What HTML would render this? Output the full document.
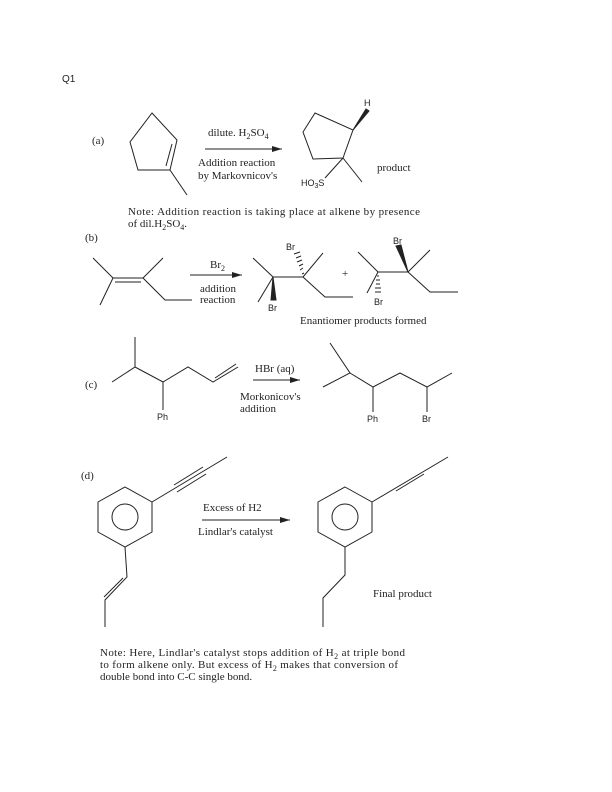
<!DOCTYPE html>
<html><head><meta charset="utf-8"><style>
html,body{margin:0;padding:0;background:#fff;}
svg{display:block;}
.s{font-family:"Liberation Serif",serif;font-size:11px;fill:#222;}
.a{font-family:"Liberation Sans",sans-serif;font-size:9px;fill:#222;}
line,polyline,polygon,circle{stroke:#222;stroke-width:1;fill:none;}
.f{fill:#222;}
</style></head><body>
<svg width="612" height="792" viewBox="0 0 612 792" xmlns="http://www.w3.org/2000/svg">
<defs><marker id="ar" markerWidth="10" markerHeight="6" refX="10" refY="3" orient="auto"><path d="M0,0 L10,3 L0,6 Z" fill="#222"/></marker></defs>
<text x="62" y="82" class="a" style="font-size:10px">Q1</text>

<!-- (a) -->
<text x="92" y="144" class="s">(a)</text>
<polygon points="152,113 177,140 170,170 138,170 130,142"/>
<line x1="172" y1="144" x2="166" y2="166"/>
<line x1="170" y1="170" x2="187" y2="195"/>
<line x1="205" y1="149" x2="282" y2="149" marker-end="url(#ar)"/>
<text x="208" y="136" class="s">dilute. H<tspan font-size="8" dy="3">2</tspan><tspan dy="-3">SO</tspan><tspan font-size="8" dy="3">4</tspan></text>
<text x="198" y="166" class="s">Addition reaction</text>
<text x="198" y="179" class="s">by Markovnicov's</text>
<polygon points="315,113 353,130 343,158 313,159 303,132"/>
<polygon class="f" points="353,130 369,111 366,109"/>
<text x="364" y="106" class="a">H</text>
<line x1="343" y1="158" x2="362" y2="182"/>
<line x1="343" y1="158" x2="325" y2="178"/>
<text x="301" y="186" class="a">HO<tspan font-size="7" dy="2">3</tspan><tspan dy="-2">S</tspan></text>
<text x="377" y="171" class="s">product</text>
<text x="128" y="215" class="s" textLength="292">Note: Addition reaction is taking place at alkene by presence</text>
<text x="128" y="227" class="s">of dil.H<tspan font-size="8" dy="3">2</tspan><tspan dy="-3">SO</tspan><tspan font-size="8" dy="3">4</tspan><tspan dy="-3">.</tspan></text>

<!-- (b) -->
<text x="85" y="241" class="s">(b)</text>
<line x1="113" y1="278" x2="93" y2="258"/>
<line x1="113" y1="278" x2="100" y2="305"/>
<line x1="113" y1="278" x2="143" y2="278"/>
<line x1="115" y1="282" x2="141" y2="282"/>
<line x1="143" y1="278" x2="163" y2="258"/>
<polyline points="143,278 165,300 192,300"/>
<line x1="190" y1="275" x2="242" y2="275" marker-end="url(#ar)"/>
<text x="210" y="268" class="s">Br<tspan font-size="8" dy="3">2</tspan></text>
<text x="200" y="292" class="s">addition</text>
<text x="200" y="303" class="s">reaction</text>
<line x1="273" y1="277" x2="253" y2="258"/>
<line x1="273" y1="277" x2="258" y2="302"/>
<polygon class="f" points="273,277 271,300 276,300"/>
<text x="268" y="311" class="a">Br</text>
<line x1="273" y1="277" x2="303" y2="277"/>
<g stroke="#222" stroke-width="0.8">
<line x1="302" y1="274" x2="304" y2="273"/><line x1="300" y1="270" x2="303" y2="268"/><line x1="299" y1="266" x2="303" y2="264"/><line x1="297" y1="262" x2="302" y2="260"/><line x1="296" y1="258" x2="301" y2="256"/><line x1="294" y1="254" x2="300" y2="252"/></g>
<text x="286" y="250" class="a">Br</text>
<line x1="303" y1="277" x2="323" y2="253"/>
<polyline points="303,277 325,297 353,297"/>
<text x="342" y="277" class="s">+</text>
<line x1="378" y1="272" x2="358" y2="252"/>
<line x1="378" y1="272" x2="367" y2="293"/>
<g stroke="#222" stroke-width="0.8">
<line x1="377" y1="276" x2="379" y2="276"/><line x1="376" y1="280" x2="380" y2="280"/><line x1="376" y1="284" x2="380" y2="284"/><line x1="375" y1="288" x2="381" y2="288"/><line x1="375" y1="292" x2="381" y2="292"/></g>
<text x="374" y="305" class="a">Br</text>
<line x1="378" y1="272" x2="408" y2="272"/>
<polygon class="f" points="408,272 396,246 401,245"/>
<text x="393" y="244" class="a">Br</text>
<line x1="408" y1="272" x2="430" y2="250"/>
<polyline points="408,272 430,292 458,292"/>
<text x="300" y="324" class="s">Enantiomer products formed</text>

<!-- (c) -->
<text x="85" y="388" class="s">(c)</text>
<polyline points="135,337 135,367 112,382"/>
<polyline points="135,367 163,382 188,367 213,382 238,367"/>
<line x1="215" y1="378" x2="236" y2="364"/>
<line x1="163" y1="382" x2="163" y2="410"/>
<text x="157" y="420" class="a">Ph</text>
<line x1="253" y1="380" x2="300" y2="380" marker-end="url(#ar)"/>
<text x="255" y="372" class="s">HBr (aq)</text>
<text x="240" y="400" class="s">Morkonicov's</text>
<text x="240" y="412" class="s">addition</text>
<polyline points="330,343 350,373 323,387"/>
<polyline points="350,373 373,387 400,373 427,387 452,373"/>
<line x1="373" y1="387" x2="373" y2="412"/>
<line x1="427" y1="387" x2="427" y2="412"/>
<text x="367" y="422" class="a">Ph</text>
<text x="422" y="422" class="a">Br</text>

<!-- (d) -->
<text x="81" y="479" class="s">(d)</text>
<polygon points="125,487 152,502 152,532 125,547 98,532 98,502"/>
<circle cx="125" cy="517" r="13"/>
<line x1="152" y1="502" x2="227" y2="457"/>
<line x1="174" y1="485" x2="203" y2="467"/>
<line x1="177" y1="492" x2="206" y2="474"/>
<polyline points="125,547 127,577 105,600 105,627"/>
<line x1="123" y1="578" x2="104" y2="597"/>
<line x1="202" y1="520" x2="290" y2="520" marker-end="url(#ar)"/>
<text x="203" y="511" class="s">Excess of H2</text>
<text x="198" y="535" class="s">Lindlar's catalyst</text>
<polygon points="345,487 372,502 372,532 345,547 318,532 318,502"/>
<circle cx="345" cy="517" r="13"/>
<line x1="372" y1="502" x2="448" y2="457"/>
<line x1="396" y1="491" x2="424" y2="474"/>
<polyline points="345,547 345,575 323,598 323,627"/>
<text x="373" y="597" class="s">Final product</text>
<text x="100" y="656" class="s" textLength="305">Note: Here, Lindlar's catalyst stops addition of H<tspan font-size="8" dy="3">2</tspan><tspan dy="-3"> at triple bond</tspan></text>
<text x="100" y="668" class="s" textLength="298">to form alkene only. But excess of H<tspan font-size="8" dy="3">2</tspan><tspan dy="-3"> makes that conversion of</tspan></text>
<text x="100" y="680" class="s">double bond into C-C  single bond.</text>
</svg>
</body></html>
